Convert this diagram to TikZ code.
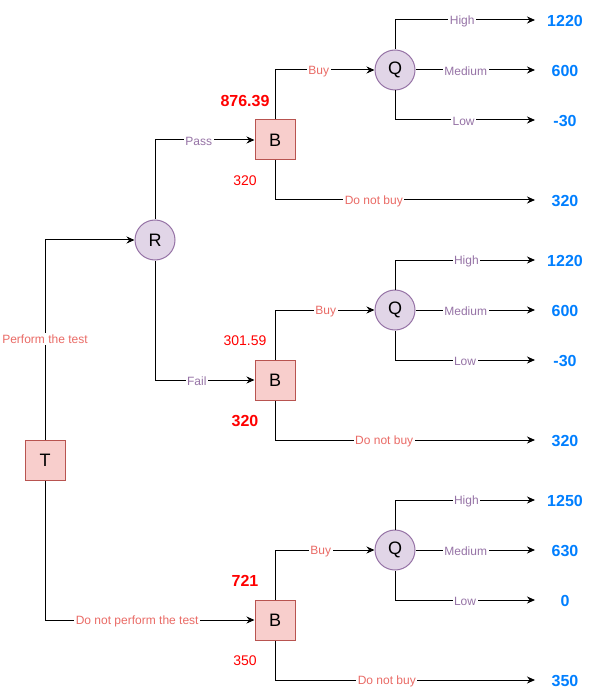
\documentclass[tikz,border=0pt]{standalone}
\usepackage{fontspec}
\setmainfont{Liberation Sans}
\usetikzlibrary{arrows.meta}
\definecolor{boxfill}{HTML}{F8CECC}
\definecolor{boxdraw}{HTML}{B85450}
\definecolor{circfill}{HTML}{E1D5E7}
\definecolor{circdraw}{HTML}{9673A6}
\definecolor{lblpurple}{HTML}{9673A6}
\definecolor{lblred}{HTML}{EA6B66}
\definecolor{valblue}{HTML}{007FFF}
\definecolor{numred}{HTML}{FF0000}
\begin{document}
\begin{tikzpicture}[x=1pt,y=-1pt,
  decbox/.style={draw=boxdraw,fill=boxfill,minimum size=40pt,inner sep=0pt,line width=1pt,font=\fontsize{18}{20}\selectfont},
  chance/.style={circle,draw=circdraw,fill=circfill,minimum size=40pt,inner sep=0pt,line width=1pt,font=\fontsize{18}{20}\selectfont},
  val/.style={font=\bfseries\fontsize{16}{18}\selectfont,text=valblue,minimum width=60pt,inner sep=0pt,yshift=-1pt},
  conn/.style={draw,line width=1pt,-{Stealth[length=8pt,width=7pt]}},
  plbl/.style={fill=white,inner sep=1.5pt,text=lblpurple,font=\fontsize{12}{14}\selectfont,yshift=-1.5pt},
  rlbl/.style={fill=white,inner sep=1.5pt,text=lblred,font=\fontsize{12}{14}\selectfont,yshift=-1.5pt},
  bignum/.style={text=numred,font=\bfseries\fontsize{16}{18}\selectfont,inner sep=0pt},
  smallnum/.style={text=numred,font=\fontsize{14}{16}\selectfont,inner sep=0pt}]
\useasboundingbox[fill=white] (0,0) rectangle (596,700);

% decision / chance nodes
\node[decbox] (T) at (45,460) {T};
\node[chance] (R) at (155,240) {R};
\node[decbox] (B1) at (275,140) {B};
\node[decbox] (B2) at (275,380) {B};
\node[decbox] (B3) at (275,620) {B};
\node[chance] (Q1) at (395,70) {Q};
\node[chance] (Q2) at (395,310) {Q};
\node[chance] (Q3) at (395,550) {Q};

% payoff values
\coordinate (c11) at (535,20);
\coordinate (c12) at (535,70);
\coordinate (c13) at (535,120);
\coordinate (c14) at (535,200);
\coordinate (c21) at (535,260);
\coordinate (c22) at (535,310);
\coordinate (c23) at (535,360);
\coordinate (c24) at (535,440);
\coordinate (c31) at (535,500);
\coordinate (c32) at (535,550);
\coordinate (c33) at (535,600);
\coordinate (c34) at (535,680);
\node[val] (v11) at (565,20) {1220};
\node[val] (v12) at (565,70) {600};
\node[val] (v13) at (565,120) {-30};
\node[val] (v14) at (565,200) {320};
\node[val] (v21) at (565,260) {1220};
\node[val] (v22) at (565,310) {600};
\node[val] (v23) at (565,360) {-30};
\node[val] (v24) at (565,440) {320};
\node[val] (v31) at (565,500) {1250};
\node[val] (v32) at (565,550) {630};
\node[val] (v33) at (565,600) {0};
\node[val] (v34) at (565,680) {350};

% expected values
\node[bignum] (e1) at (245,101) {876.39};
\node[smallnum] (e1b) at (245,181) {320};
\node[smallnum] (e2) at (245,341) {301.59};
\node[bignum] (e2b) at (245,421) {320};
\node[bignum] (e3) at (245,581) {721};
\node[smallnum] (e3b) at (245,661) {350};

% connectors from T and R
\path[conn] (T.north) |- node[rlbl,pos=0.255] {Perform the test} (R.west);
\path[conn] (T.south) |- node[rlbl,pos=0.72] {Do not perform the test} (B3.west);
\path[conn] (R.north) |- node[plbl,pos=0.72] {Pass} (B1.west);
\path[conn] (R.south) |- node[plbl,pos=0.71] {Fail} (B2.west);

% B1 subtree
\path[conn] (B1.north) |- node[rlbl,pos=0.72] {Buy} (Q1.west);
\path[conn] (B1.south) |- node[rlbl,pos=0.69] {Do not buy} (c14);
\path[conn] (Q1.north) |- node[plbl,pos=0.74] {High} (c11);
\path[conn] (Q1.east) -- node[plbl,pos=0.42] {Medium} (c12);
\path[conn] (Q1.south) |- node[plbl,pos=0.745] {Low} (c13);

% B2 subtree
\path[conn] (B2.north) |- node[rlbl,pos=0.755] {Buy} (Q2.west);
\path[conn] (B2.south) |- node[rlbl,pos=0.71] {Do not buy} (c24);
\path[conn] (Q2.north) |- node[plbl,pos=0.755] {High} (c21);
\path[conn] (Q2.east) -- node[plbl,pos=0.42] {Medium} (c22);
\path[conn] (Q2.south) |- node[plbl,pos=0.75] {Low} (c23);

% B3 subtree
\path[conn] (B3.north) |- node[rlbl,pos=0.73] {Buy} (Q3.west);
\path[conn] (B3.south) |- node[rlbl,pos=0.715] {Do not buy} (c34);
\path[conn] (Q3.north) |- node[plbl,pos=0.755] {High} (c31);
\path[conn] (Q3.east) -- node[plbl,pos=0.42] {Medium} (c32);
\path[conn] (Q3.south) |- node[plbl,pos=0.75] {Low} (c33);
\end{tikzpicture}
\end{document}
